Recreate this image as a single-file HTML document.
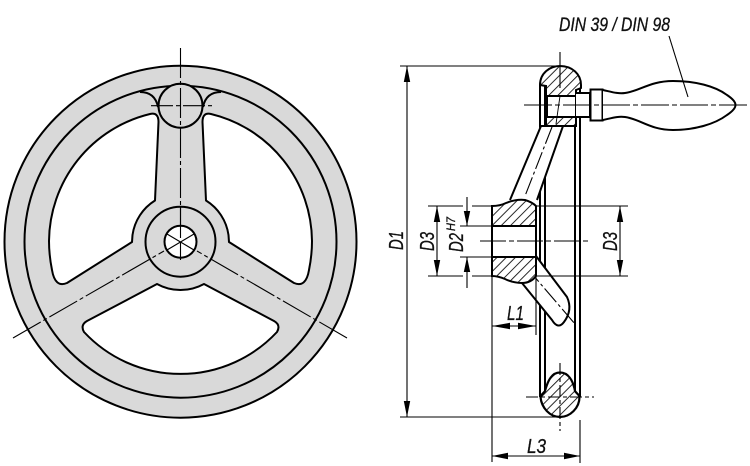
<!DOCTYPE html>
<html>
<head>
<meta charset="utf-8">
<style>
html,body{margin:0;padding:0;background:#fff;}
svg{display:block;}
text{font-family:"Liberation Sans",sans-serif;font-style:italic;fill:#111;stroke:#111;stroke-width:.3;}
</style>
</head>
<body>
<svg width="750" height="466" viewBox="0 0 750 466" xmlns="http://www.w3.org/2000/svg">
<defs>
<pattern id="h" patternUnits="userSpaceOnUse" width="6.5" height="6.5" patternTransform="rotate(-45)">
<rect width="6.5" height="6.5" fill="#fff"/>
<line x1="0" y1="0" x2="6.5" y2="0" stroke="#111" stroke-width="1.8"/>
</pattern>
</defs>

<!-- FRONT VIEW -->
<circle cx="180.5" cy="241.7" r="176" fill="#d9d9d9" stroke="#000" stroke-width="2"/>
<circle cx="180.5" cy="241.7" r="156" fill="none" stroke="#000" stroke-width="2"/>
<g fill="#fff" stroke="#000" stroke-width="2" stroke-linejoin="round">
<path d="M155,200.5 L158.5,122 Q158.5,112 150,114 A132,132 0 0 0 49,241 Q49,255 52,270 Q55,288 67,283 L132,242 L132.5,235 A48.7,48.7 0 0 1 155,200.5 Z"/>
<path d="M206,200.5 L202.5,122 Q202.5,112 211,114 A132,132 0 0 1 312,241 Q312,255 309,270 Q306,288 294,283 L229,242 L228.5,235 A48.7,48.7 0 0 0 206,200.5 Z"/>
<path d="M157,284 L87,321 Q80,325 84,332 A132,132 0 0 0 277,332 Q281,325 274,321 L204,284 A48.7,48.7 0 0 1 157,284 Z"/>
</g>
<circle cx="180.5" cy="241.7" r="35" fill="none" stroke="#000" stroke-width="2"/>
<circle cx="180.5" cy="241.7" r="16" fill="#fff" stroke="#000" stroke-width="2"/>
<circle cx="180.5" cy="105.7" r="22" fill="#d9d9d9" stroke="#000" stroke-width="2"/>
<path d="M140,92 Q155,92 158,107 M221,92 Q206,92 203,107" fill="none" stroke="#000" stroke-width="2"/>
<g fill="none" stroke="#000" stroke-width="1.1">
<path d="M180.5,207 V226 M180.5,242 V260 M180.5,242 L167,234 M180.5,242 L194,234 M180.5,242 L167,250 M180.5,242 L194,250" />
<path d="M180.5,48 V240" stroke-dasharray="30 3 4 3"/>
<path d="M151,105.7 H213" stroke-dasharray="22 3 4 3"/>
<path d="M13,338 L164,251" stroke-dasharray="32 3 4 3"/>
<path d="M347,338 L197,251" stroke-dasharray="32 3 4 3"/>
</g>

<!-- SIDE VIEW: rim lines -->
<g stroke="#000" stroke-width="2" fill="none">
<path d="M540,85 V397 M545,86 V392 M575,86 V392 M580,88 V397"/>
</g>

<!-- upper spoke -->
<path d="M510,200 L540,126 L563,126 L536,205 Z" fill="#fff" stroke="none"/>
<path d="M510,200 L541,126 M563,126 L537,200" stroke="#000" stroke-width="2" fill="none"/>
<path d="M552,127 L525,196" stroke="#000" stroke-width="1.1" fill="none" stroke-dasharray="18 3 3 3"/>

<!-- lower spoke -->
<path d="M536,256 L567,297 Q573,310 564,322 Q558,330 552,320 L522,283 Z" fill="#fff" stroke="#000" stroke-width="2" stroke-linejoin="round"/>
<path d="M527,268 L575,324" stroke="#000" stroke-width="1.1" fill="none" stroke-dasharray="18 3 3 3"/>

<!-- hub section -->
<path d="M492,206 Q500,206 506,203 Q516,199 525,200 Q532,202 536,206 V226 H492 Z" fill="url(#h)" stroke="#000" stroke-width="2"/>
<path d="M492,257 H536 V276 Q531,283 522,283 Q513,283 505,279 Q498,276 492,276 Z" fill="url(#h)" stroke="#000" stroke-width="2"/>
<rect x="492" y="226" width="44" height="31" fill="#fff"/>
<path d="M492,206 V276 M536,206 V276 M492,226 H536 M492,257 H536" stroke="#000" stroke-width="2"/>

<!-- top blob -->
<path d="M540,85 C540,73 550,66 560,66 C572,66 581,74 581,85 V88 L576,90 V96 H546 V86 Z" fill="url(#h)" stroke="#000" stroke-width="2"/>
<rect x="547" y="96" width="29" height="21" fill="#fff"/>
<path d="M546,117 H576 V126 H546 Z" fill="url(#h)" stroke="#000" stroke-width="2"/>
<path d="M540,85 V126 H576 M546,96 V126 M547,96 V117 H576 M547,96 H576 M576,90 V126" fill="none" stroke="#000" stroke-width="2"/>

<!-- pin, collar, handle -->
<path d="M576,93 H590 V117 H576" fill="#fff" stroke="#000" stroke-width="2"/>
<rect x="590.5" y="89.5" width="12" height="31" fill="#fff" stroke="#000" stroke-width="2"/>
<path d="M603,90 C612,92 618,94 625,93 C640,91 650,81 673,81 C695,81 715,86 727,95 C733,99 735.5,102 735.5,105 C735.5,108 733,111 727,115 C715,124 695,130 673,130 C650,130 640,119 625,117 C618,116 612,118 603,120" fill="#fff" stroke="#000" stroke-width="2"/>

<!-- bottom blob -->
<path d="M560,372.5 C552,372.5 548,380 545,391 C543,394 540.5,395 540.5,397 C541.5,408 550,417 560,417 C570,417 579.5,408 579.5,397 C579.5,395 577,394 575,391 C573,380 568,372.5 560,372.5 Z" fill="url(#h)" stroke="#000" stroke-width="2.2"/>
<path d="M560,363 V431 M526,397 H594" stroke="#000" stroke-width="1.1" stroke-dasharray="12 3 4 3" fill="none"/>

<!-- centre lines -->
<g stroke="#000" stroke-width="1.1" fill="none">
<path d="M560,52 V88" />
<path d="M524,105 H749" stroke-dasharray="28 3 5 3"/>
<path d="M560,96 L556,124" stroke-width="0.9"/>
<path d="M480,241 H590" stroke-dasharray="26 3 5 3"/>
</g>

<!-- dimension & extension lines -->
<g stroke="#000" stroke-width="1.1" fill="none">
<path d="M400,66 H560 M400,417 H560"/>
<path d="M407,66 V417"/>
<path d="M669,36 L688,97"/>
<path d="M428,206 H463 M472,206 H492 M536,206 H628"/>
<path d="M428,276 H463 M472,276 H492 M536,276 H628"/>
<path d="M437,206 V276 M620,206 V276"/>
<path d="M460,226 H492 M460,257 H492"/>
<path d="M467,197 V226 M467,257 V288"/>
<path d="M492,276 V462 M580,420 V463 M536,276 V335"/>
<path d="M492,326 H536"/>
<path d="M492,456 H580"/>
</g>

<!-- arrowheads -->
<g fill="#000">
<path d="M407,66 l-3.2,16 h6.4 Z M407,417 l-3.2,-16 h6.4 Z"/>
<path d="M437,206 l-3.2,16 h6.4 Z M437,276 l-3.2,-16 h6.4 Z"/>
<path d="M620,206 l-3.2,16 h6.4 Z M620,276 l-3.2,-16 h6.4 Z"/>
<path d="M467,226 l-3.2,-15 h6.4 Z M467,257 l-3.2,15 h6.4 Z"/>
<path d="M492,326 l18,-3.2 v6.4 Z M536,326 l-18,-3.2 v6.4 Z"/>
<path d="M492,456 l16,-3.2 v6.4 Z M580,456 l-16,-3.2 v6.4 Z"/>
</g>

<!-- labels -->
<text x="559" y="31" font-size="19" textLength="111" lengthAdjust="spacingAndGlyphs">DIN 39 / DIN 98</text>
<text transform="translate(403,250) rotate(-90)" font-size="20" textLength="19" lengthAdjust="spacingAndGlyphs">D1</text>
<text transform="translate(434,251) rotate(-90)" font-size="20" textLength="19" lengthAdjust="spacingAndGlyphs">D3</text>
<text transform="translate(463,252) rotate(-90)" font-size="20" textLength="19" lengthAdjust="spacingAndGlyphs">D2</text>
<text transform="translate(455,231) rotate(-90)" font-size="12" textLength="14" lengthAdjust="spacingAndGlyphs">H7</text>
<text transform="translate(617,251) rotate(-90)" font-size="20" textLength="19" lengthAdjust="spacingAndGlyphs">D3</text>
<text x="507" y="320" font-size="20" textLength="17" lengthAdjust="spacingAndGlyphs">L1</text>
<text x="527" y="453" font-size="20" textLength="19" lengthAdjust="spacingAndGlyphs">L3</text>
</svg>
</body>
</html>
